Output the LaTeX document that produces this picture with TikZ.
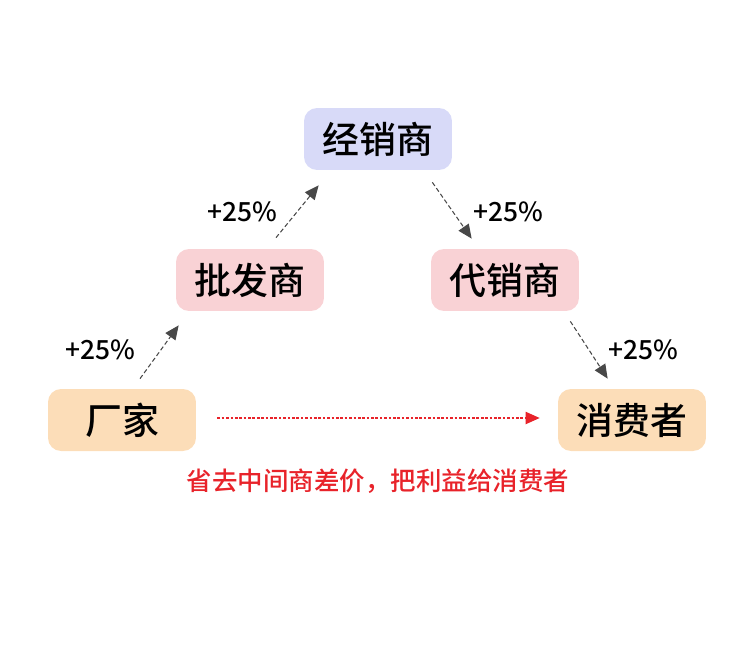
\documentclass[tikz,border=0pt]{standalone}
\usepackage{fontspec}
\usepackage{xcolor}
\usepackage{tikz}
\usetikzlibrary{calc,arrows.meta}
\newfontfamily\cjkmed{Noto Sans CJK SC Medium}

\definecolor{lavender}{HTML}{D8DAF8}
\definecolor{pinkbox}{HTML}{F9D2D5}
\definecolor{peach}{HTML}{FCDDB8}
\definecolor{redtxt}{HTML}{E8232A}
\definecolor{arrgray}{HTML}{484848}

\tikzset{
  stage/.style={rounded corners=0.26cm, minimum width=2.96cm, minimum height=1.24cm,
    inner sep=0pt, font=\cjkmed\fontsize{21}{21}\selectfont},
  markup/.style={font=\cjkmed\fontsize{15}{15}\selectfont},
  flow/.style={draw=arrgray, dash pattern=on 2.5pt off 1.5pt, line width=0.6pt,
    -{Triangle[length=8pt,width=7pt]}, arrgray},
  shortcut/.style={draw=redtxt, dash pattern=on 1.5pt off 1pt, line width=0.7pt,
    -{Triangle[length=8pt,width=7pt]}, redtxt}
}

\begin{document}
\begin{tikzpicture}[x=0.02cm, y=-0.02cm]
\useasboundingbox (0,0) rectangle (750,649);

% Stages
\node[stage, fill=lavender] (jx) at (378,139) {经销商};
\node[stage, fill=pinkbox] (pf) at (250,280) {批发商};
\node[stage, fill=pinkbox] (dx) at (505,280) {代销商};
\node[stage, fill=peach] (cj) at (122,420) {厂家};
\node[stage, fill=peach] (xf) at (632,420) {消费者};

% Markups along the chain
\draw[flow] ($(cj.north)+(18,-10)$) -- ($(pf.south west)+(3,14)$);
\node[markup] (m1) at (100,350) {+25\%};
\draw[flow] ($(pf.north)+(26,-11)$) -- ($(jx.south west)+(15,15)$);
\node[markup] (m2) at (242,212) {+25\%};
\draw[flow] ($(jx.south east)+(-20,12)$) -- ($(dx.north west)+(41,-10)$);
\node[markup] (m3) at (508,212) {+25\%};
\draw[flow] ($(dx.south east)+(-9,10)$) -- ($(xf.north west)+(50,-10)$);
\node[markup] (m4) at (643,350) {+25\%};

% Direct route
\draw[shortcut] ($(cj.east)+(21,-2)$) -- ($(xf.west)+(-18,-2)$);
\node[markup, text=redtxt, font=\cjkmed\fontsize{14.5}{14.5}\selectfont] (note) at (378,481)
  {省去中间商差价，把利益给消费者};

\end{tikzpicture}
\end{document}
